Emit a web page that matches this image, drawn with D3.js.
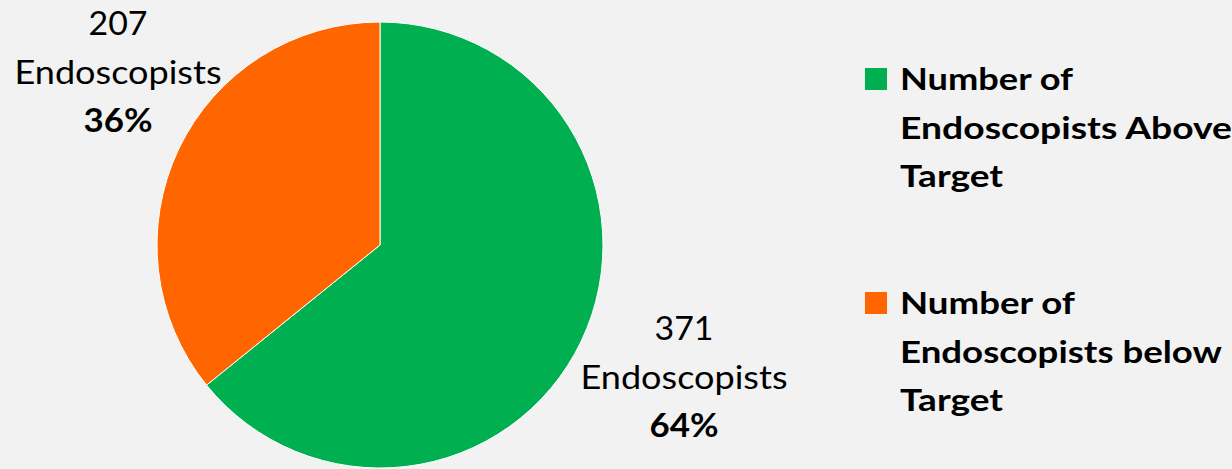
<!DOCTYPE html>
<html><head><meta charset="utf-8">
<script src="https://cdn.jsdelivr.net/npm/d3@7/dist/d3.min.js"></script>
<style>
html,body{margin:0;padding:0;background:#f2f2f2;}
svg{display:block;}
text{font-family:Lato,"Open Sans",sans-serif;fill:#000;}
</style></head>
<body><svg id="c" width="1232" height="469"></svg>
<script>
const categories = ["Number of Endoscopists Above Target", "Number of Endoscopists below Target"];
const legendLines = [["Number of", "Endoscopists Above", "Target"], ["Number of", "Endoscopists below", "Target"]];
const values = [371, 207];
const percents = ["64%", "36%"];
const colors = ["#00b050", "#ff6600"];

const svg = d3.select("#c");
const cx = 380, cy = 245, r = 223;
const pie = d3.pie().sort(null).value(d => d)(values);
const arc = d3.arc().innerRadius(0).outerRadius(r);
const g = svg.append("g").attr("transform", `translate(${cx},${cy})`);
g.selectAll("path").data(pie).join("path")
  .attr("d", arc).attr("fill", (d, i) => colors[i])
  .attr("stroke", "#ffffff").attr("stroke-width", 1);

// data labels
const labelPos = [[684, 340], [118, 35]];
const labelWidths = [59, 207, 69];
pie.forEach((d, i) => {
  const [x, y] = labelPos[i];
  const t = svg.append("text").attr("text-anchor", "middle").attr("font-size", 33);
  const lines = [String(values[i]), "Endoscopists", percents[i]];
  lines.forEach((ln, j) => {
    const ts = t.append("tspan").attr("x", x).attr("y", y + j * 48.5)
      .attr("textLength", labelWidths[j]).attr("lengthAdjust", "spacingAndGlyphs").text(ln);
    if (j === 2) ts.attr("font-weight", "bold");
  });
});

// legend
const legY = [90, 314];
const legWidths = [[173, 332, 103], [175, 322, 103]];
categories.forEach((c, i) => {
  svg.append("rect").attr("x", 865).attr("y", legY[i] - 22).attr("width", 22).attr("height", 22).attr("fill", colors[i]);
  const t = svg.append("text").attr("font-size", 31).attr("font-weight", "bold");
  legendLines[i].forEach((ln, j) => {
    t.append("tspan").attr("x", 900).attr("y", legY[i] + j * 48.5)
      .attr("textLength", legWidths[i][j]).attr("lengthAdjust", "spacingAndGlyphs").text(ln);
  });
});
</script></body></html>
